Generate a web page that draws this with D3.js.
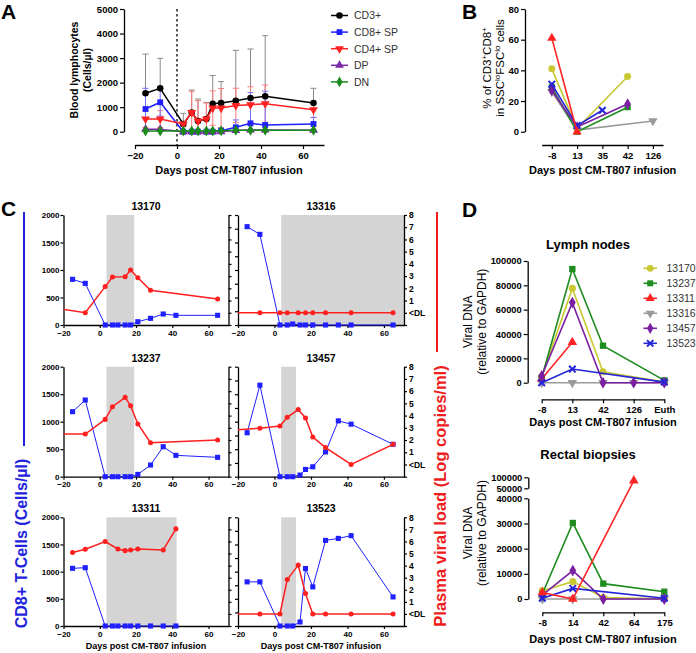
<!DOCTYPE html>
<html><head><meta charset="utf-8">
<script src="https://cdn.jsdelivr.net/npm/d3@7"></script>
<style>body{margin:0;background:#fff}svg{font-family:"Liberation Sans",Arial,sans-serif}</style>
</head><body><svg id="c" width="696" height="653"></svg>
<script>
// ---------- Panel A data ----------
const daysA = [-15,-8,3,7,10,14,17,21,28,35,42,65];
const cd3 = [1565,1769,314,778,436,518,1141,1168,1263,1372,1440,1168];
const cd3Err = [1598,1221,436,922,897,676,1149,872,2051,1998,2473,601];
const cd8 = [925,1198,0,0,0,0,0,40,180,342,273,314];
const cd8Err = [844,560,40,30,30,30,30,60,300,1250,1380,270];
const cd4 = [518,518,314,778,436,518,962,962,1070,1100,1141,896];
const cd4Err = [340,340,100,865,830,650,700,800,700,730,760,320];
const dp = [100,100,0,0,0,0,0,0,50,70,70,60];
const dn = [30,30,30,30,30,30,30,40,60,60,60,60];
const seriesA = ["CD3+","CD8+ SP","CD4+ SP","DP","DN"];
const ticksAx = [-20,0,20,40,60];
const ticksAy = [0,1000,2000,3000,4000,5000];

// ---------- subjects ----------
const subjects = ["13170","13237","13311","13316","13457","13523"];

// ---------- Panel B data ----------
const bCats = ["-8","13","35","42","126"];
const bPct = [
  [41, 2, null, 36, null],
  [29, 0, null, 16, null],
  [61, 0, null, null, null],
  [26, 1, null, null, 7],
  [27, 3, null, 18, null],
  [31, 4, 14, null, null]
];
const ticksBy = [0,20,40,60,80];

// ---------- Panel C data ----------
const cDays = [-15,-8,3,7,10,14,17,21,28,35,42,65];
const cd8_13170 = [830,757,0,0,0,0,0,60,121,200,176,176];
const cd8_13316 = [1788,1648,0,0,18,0,0,0,0,0,0,0];
const cd8_13237 = [1182,1394,0,0,0,0,0,42,212,545,388,352];
const cd8_13457 = [799,1664,0,0,0,30,132,180,450,1015,955,589];
const cd8_13311 = [1061,1073,0,0,0,0,0,0,0,0,0,null];
const cd8_13523 = [812,812,0,0,0,74,1058,720,1575,1612,1662,535];
const vlDays_13170 = [-22,-8,3,7,14,17,21,28,65];
const vl_13170 = [0.32,0,2.14,2.93,2.95,3.5,2.87,1.84,1.13];
const vlDays_13316 = [-22,-8,3,7,13,17,21,28,42,65];
const vl_13316 = [0,0,0,0,0,0,0,0,0,0];
const vlDays_13237 = [-22,-8,3,7,14,17,21,28,65];
const vl_13237 = [2.49,2.49,3.69,4.73,5.49,4.81,3.31,1.78,2.0];
const vlDays_13457 = [-22,-8,3,7,13,17,21,28,42,65];
const vl_13457 = [2.82,2.97,3.14,3.86,4.49,3.81,2.24,1.38,0,1.65];
const vlDays_13311 = [-15,-8,3,10,14,17,21,35,42];
const vl_13311 = [5.08,5.35,5.99,5.38,5.24,5.30,5.38,5.30,7.04];
const vlDays_13523 = [-22,-8,3,7,13,17,21,28,42,65];
const vl_13523 = [0,0,0,2.85,4.04,1.69,0,0,0,0];
const shadeStart = [3.7,3.7,3.7,3.7,3.7,3.7];
const shadeEnd = [19,71,19,11.8,42.4,11.8];
const ticksCx = [-20,0,20,40,60];
const ticksCy = [0,500,1000,1500,2000];
const ticksCy2 = [-1,0,1,2,3,4,5,6,7,8];

// ---------- Panel D data ----------
const lnCats = ["-8","13","42","126","Euth"];
const lnDNA = [
  [5000, 77500, 9000, null, 500],
  [4000, 93400, 30400, null, 1900],
  [3000, 33200, null, null, null],
  [0, 0, 0, 0, 0],
  [5500, 65800, 0, 0, 0],
  [0, 11200, null, null, 500]
];
const rbCats = ["-8","14","42","64","175"];
const rbDNA = [
  [3300, 6900, 600, null, 100],
  [2000, 30200, 6100, null, 2900],
  [2600, 0, null, 85000, null],
  [0, 0, 0, null, 0],
  [1500, 11300, 0, null, 0],
  [300, 4200, null, null, 300]
];
const ticksLNy = [0,20000,40000,60000,80000,100000];
const ticksRBlow = [0,10000,20000,30000,40000];
const ticksRBup = [50000,100000];

// ---------- styles ----------
const FONT = '"Liberation Sans", Arial, sans-serif';
const fmt = d3.format("d");
const colA = ["#000000","#1f1fff","#ff2020","#7a2aa8","#1a8a1a"];
const colAerr = ["#8a8a8a","#7070ff","#ff7878"];
const shapesA = ["circle","square","tridown","triangle","diamond"];
const subjColors = ["#c8c832","#1e8c1e","#ff2424","#9a9a9a","#7a1fa2","#2424d8"];
const subjShapes = ["circle","square","triangle","tridown","diamond","times"];

const svg = d3.select("#c");

function symPath(shape, size){
  const t = {circle:d3.symbolCircle, square:d3.symbolSquare, triangle:d3.symbolTriangle,
    tridown:d3.symbolTriangle, diamond:d3.symbolDiamond, times:d3.symbolTimes}[shape];
  return d3.symbol().type(t).size(size)();
}
function drawSym(g, shape, x, y, size, color){
  const p = g.append("path").attr("d", symPath(shape,size))
    .attr("transform", `translate(${x},${y})` + (shape==="tridown"?" rotate(180)":""));
  if (shape==="times") p.attr("fill","none").attr("stroke",color).attr("stroke-width",2);
  else p.attr("fill",color);
  return p;
}
function styleAxis(g, fs, bold=true){
  g.attr("font-family", FONT);
  g.select(".domain").attr("stroke","#000").attr("stroke-width",1.3);
  g.selectAll(".tick line").attr("stroke","#000").attr("stroke-width",1.2);
  g.selectAll(".tick text").attr("font-size",fs).attr("font-weight",bold?"bold":"normal").attr("fill","#000");
}
function text(x,y,s,opt={}){
  const t = svg.append("text").attr("x",x).attr("y",y).text(s)
    .attr("font-family",FONT).attr("font-size",opt.fs||10)
    .attr("font-weight",opt.bold===false?"normal":"bold")
    .attr("fill",opt.fill||"#000").attr("text-anchor",opt.anchor||"start");
  if (opt.rot) t.attr("transform",`rotate(${opt.rot},${x},${y})`);
  return t;
}

// ================= PANEL A =================
{
  const xA = d3.scaleLinear().domain([-20,70]).range([135,324]);
  const yA = d3.scaleLinear().domain([0,5000]).range([131.7,9]);
  const g = svg.append("g");
  const gy = g.append("g").attr("transform","translate(124,0)")
    .call(d3.axisLeft(yA).tickValues(ticksAy).tickFormat(fmt).tickSize(4).tickSizeOuter(0).tickPadding(2));
  styleAxis(gy, 9.5);
  const gx = g.append("g").attr("transform","translate(0,145)")
    .call(d3.axisBottom(xA).tickValues(ticksAx).tickFormat(fmt).tickSize(4).tickSizeOuter(0).tickPadding(3));
  styleAxis(gx, 9.5);
  g.append("line").attr("x1",xA(0)).attr("x2",xA(0)).attr("y1",9).attr("y2",145)
    .attr("stroke","#000").attr("stroke-width",1.3).attr("stroke-dasharray","2.5,2.5");

  const vals = [cd3,cd8,cd4,dp,dn];
  const errs = [[cd3,cd3Err,0,false],[cd4,cd4Err,2,true],[cd8,cd8Err,1,true]];
  errs.forEach(([v,e,ci,both])=>{
    daysA.forEach((d,i)=>{
      const x = xA(d), hi = yA(v[i]+e[i]), lo = yA(Math.max(0,v[i]-e[i]));
      const y0 = yA(v[i]);
      g.append("line").attr("x1",x).attr("x2",x).attr("y1",hi).attr("y2",both?lo:y0)
        .attr("stroke",colAerr[ci]).attr("stroke-width",1);
      g.append("line").attr("x1",x-3).attr("x2",x+3).attr("y1",hi).attr("y2",hi)
        .attr("stroke",colAerr[ci]).attr("stroke-width",1);
      if (both && v[i]-e[i] > 0)
        g.append("line").attr("x1",x-3).attr("x2",x+3).attr("y1",lo).attr("y2",lo)
          .attr("stroke",colAerr[ci]).attr("stroke-width",1);
    });
  });
  const line = d3.line().x(d=>xA(d[0])).y(d=>yA(d[1]));
  vals.forEach((v,si)=>{
    const pts = daysA.map((d,i)=>[d,v[i]]);
    g.append("path").attr("d",line(pts)).attr("fill","none").attr("stroke",colA[si]).attr("stroke-width",1.5);
    pts.forEach(p=>drawSym(g, shapesA[si], xA(p[0]), yA(p[1]), 34, colA[si]));
  });
  seriesA.forEach((s,i)=>{
    const y = 15.5 + i*16.6;
    g.append("line").attr("x1",331).attr("x2",348).attr("y1",y).attr("y2",y).attr("stroke",colA[i]).attr("stroke-width",1.5);
    drawSym(g, shapesA[i], 339.5, y, 34, colA[i]);
    text(354, y+3.8, s, {fs:10.5, bold:false, fill:"#333"});
  });
  text(229, 174, "Days post CM-T807 infusion", {fs:11, anchor:"middle"});
  text(78, 70, "Blood lymphocytes", {fs:10.5, anchor:"middle", rot:-90});
  text(91, 70, "(Cells/µl)", {fs:10.5, anchor:"middle", rot:-90});
  text(1, 18.5, "A", {fs:21});
}

// ================= PANEL B =================
{
  const xB = d3.scalePoint().domain(bCats).range([541.7,663]).padding(0.4);
  const yB = d3.scaleLinear().domain([0,80]).range([131.7,9]);
  const g = svg.append("g");
  const gy = g.append("g").attr("transform","translate(525,0)")
    .call(d3.axisLeft(yB).tickValues(ticksBy).tickFormat(fmt).tickSize(4).tickSizeOuter(0).tickPadding(2));
  styleAxis(gy, 9.5);
  const gx = g.append("g").attr("transform","translate(0,145)")
    .call(d3.axisBottom(xB).tickSize(4).tickSizeOuter(0).tickPadding(3));
  styleAxis(gx, 9.5);
  const line = d3.line().x(d=>xB(d[0])).y(d=>yB(d[1]));
  const order = [3,1,0,4,5,2];
  order.forEach(si=>{
    const pts = bCats.map((c,i)=>[c,bPct[si][i]]).filter(p=>p[1]!==null);
    g.append("path").attr("d",line(pts)).attr("fill","none").attr("stroke",subjColors[si]).attr("stroke-width",1.6);
    pts.forEach(p=>drawSym(g, subjShapes[si], xB(p[0]), yB(p[1]), subjShapes[si]==="times"?30:38, subjColors[si]));
  });
  text(602.7, 174, "Days post CM-T807 infusion", {fs:11, anchor:"middle"});
  const t1 = svg.append("text").attr("font-family",FONT).attr("font-size",11.5).attr("text-anchor","middle")
    .attr("transform","translate(491,68) rotate(-90)");
  t1.append("tspan").text("% of CD3");
  t1.append("tspan").text("+").attr("font-size",8).attr("dy",-4);
  t1.append("tspan").text("CD8").attr("dy",4);
  t1.append("tspan").text("+").attr("font-size",8).attr("dy",-4);
  const t2 = svg.append("text").attr("font-family",FONT).attr("font-size",11.5).attr("text-anchor","middle")
    .attr("transform","translate(504,68) rotate(-90)");
  t2.append("tspan").text("in SSC");
  t2.append("tspan").text("lo").attr("font-size",8).attr("dy",-4);
  t2.append("tspan").text("FSC").attr("dy",4);
  t2.append("tspan").text("lo").attr("font-size",8).attr("dy",-4);
  t2.append("tspan").text(" cells").attr("dy",4);
  text(462, 18.5, "B", {fs:21});
}

// ================= PANEL C =================
{
  const rows = [[215,325],[366.7,476.7],[517.3,626]];
  const cols = [[63.5,228.5],[238,404]];
  const panels = [
    ["13170",0,0,cd8_13170,vlDays_13170,vl_13170],
    ["13316",0,1,cd8_13316,vlDays_13316,vl_13316],
    ["13237",1,0,cd8_13237,vlDays_13237,vl_13237],
    ["13457",1,1,cd8_13457,vlDays_13457,vl_13457],
    ["13311",2,0,cd8_13311,vlDays_13311,vl_13311],
    ["13523",2,1,cd8_13523,vlDays_13523,vl_13523]
  ];
  panels.forEach((p,pi)=>{
    const [title,r,c,cd,vd,vv] = p;
    const [top,bot] = rows[r], [x0,x1] = cols[c];
    const x = d3.scaleLinear().domain([-20,71]).range([x0,x1]);
    const y = d3.scaleLinear().domain([0,2000]).range([bot,top]);
    const y2 = d3.scaleLinear().domain([-1,8]).range([bot,top]);
    const g = svg.append("g");
    const cid = "clip"+pi;
    g.append("clipPath").attr("id",cid).append("rect").attr("x",x0).attr("y",top-5).attr("width",x1-x0).attr("height",bot-top+10);
    g.append("rect").attr("x",x(shadeStart[pi])).attr("y",top)
      .attr("width",x(Math.min(71,shadeEnd[pi]))-x(shadeStart[pi])).attr("height",bot-top).attr("fill","#d4d4d4");
    const gl = g.append("g").attr("transform",`translate(${x0},0)`)
      .call(c===0 ? d3.axisLeft(y).tickValues(ticksCy).tickFormat(fmt).tickSize(3).tickSizeOuter(0).tickPadding(1)
                  : d3.axisLeft(y).tickValues([0,250,500,750,1000,1250,1500,1750,2000]).tickSize(3).tickSizeOuter(0).tickFormat(""));
    styleAxis(gl, 8);
    const gr = g.append("g").attr("transform",`translate(${x1},0)`)
      .call(d3.axisRight(y2).tickValues(ticksCy2).tickSize(3).tickSizeOuter(0).tickPadding(2)
        .tickFormat(c===1 ? (d=>d===-1?"":(d===0?"<DL":String(d))) : ""));
    styleAxis(gr, 8.5);
    const gx = g.append("g").attr("transform",`translate(0,${bot})`)
      .call(d3.axisBottom(x).tickValues(ticksCx).tickFormat(fmt).tickSize(3).tickSizeOuter(0).tickPadding(2));
    styleAxis(gx, 8);
    const pts = cDays.map((d,i)=>[d,cd[i]]).filter(q=>q[1]!==null);
    const lb = d3.line().x(d=>x(d[0])).y(d=>y(d[1]));
    g.append("path").attr("d",lb(pts)).attr("fill","none").attr("stroke","#1f1fff").attr("stroke-width",1).attr("clip-path",`url(#${cid})`);
    pts.forEach(q=>drawSym(g,"square",x(q[0]),y(q[1]),26,"#1f1fff"));
    const vp = vd.map((d,i)=>[d,vv[i]]);
    const lr = d3.line().x(d=>x(d[0])).y(d=>y2(d[1]));
    g.append("path").attr("d",lr(vp)).attr("fill","none").attr("stroke","#ff1f1f").attr("stroke-width",1.5).attr("clip-path",`url(#${cid})`);
    vp.filter(q=>q[0]>=-20).forEach(q=>drawSym(g,"circle",x(q[0]),y2(q[1]),20,"#ff1f1f"));
    text((x0+x1)/2, top-5, title, {fs:10.5, anchor:"middle"});
    if (r===2) text((x0+x1)/2, bot+23, "Days post CM-T807 infusion", {fs:9, anchor:"middle"});
  });
  svg.append("line").attr("x1",24).attr("x2",24).attr("y1",212).attr("y2",446).attr("stroke","#2222dd").attr("stroke-width",2);
  text(26.5, 543.5, "CD8+ T-Cells (Cells/µl)", {fs:16, anchor:"middle", fill:"#2222dd", rot:-90});
  svg.append("line").attr("x1",437).attr("x2",437).attr("y1",212).attr("y2",352).attr("stroke","#ee1c1c").attr("stroke-width",2);
  text(445.5, 496, "Plasma viral load (Log copies/ml)", {fs:16.5, anchor:"middle", fill:"#ee1c1c", rot:-90});
  text(1, 215.5, "C", {fs:21});
}

// ================= PANEL D =================
{
  const g = svg.append("g");
  const x = d3.scalePoint().domain(lnCats).range([541.7,664.3]);
  const y = d3.scaleLinear().domain([0,100000]).range([382.7,261]);
  const gy = g.append("g").attr("transform","translate(527.7,0)")
    .call(d3.axisLeft(y).tickValues(ticksLNy).tickFormat(fmt).tickSize(4).tickSizeOuter(0).tickPadding(2));
  styleAxis(gy, 9.3);
  const gx = g.append("g").attr("transform","translate(0,399.3)")
    .call(d3.axisBottom(x).tickSize(4).tickSizeOuter(0).tickPadding(3));
  styleAxis(gx, 9.5);
  const line = d3.line().x(d=>x(d[0])).y(d=>y(d[1]));
  [3,0,1,2,4,5].forEach(si=>{
    const pts = lnCats.map((c,i)=>[c,lnDNA[si][i]]).filter(p=>p[1]!==null);
    g.append("path").attr("d",line(pts)).attr("fill","none").attr("stroke",subjColors[si]).attr("stroke-width",1.6);
    pts.forEach(p=>drawSym(g, subjShapes[si], x(p[0]), y(p[1]), subjShapes[si]==="times"?30:40, subjColors[si]));
  });
  text(588, 249, "Lymph nodes", {fs:13, anchor:"middle"});
  text(603, 425.5, "Days post CM-T807 infusion", {fs:11, anchor:"middle"});
  text(472, 321.7, "Viral DNA", {fs:12, bold:false, anchor:"middle", rot:-90});
  text(486, 321.7, "(relative to GAPDH)", {fs:12, bold:false, anchor:"middle", rot:-90});
  subjects.forEach((s,i)=>{
    const yy = 268.3 + i*15;
    g.append("line").attr("x1",643.5).attr("x2",657).attr("y1",yy).attr("y2",yy).attr("stroke",subjColors[i]).attr("stroke-width",1.6);
    drawSym(g, subjShapes[i], 650.2, yy, subjShapes[i]==="times"?28:36, subjColors[i]);
    text(666.5, yy+3.8, s, {fs:10.5, bold:false, fill:"#333"});
  });
  text(462, 217, "D", {fs:21});
}
{
  const g = svg.append("g");
  const x = d3.scalePoint().domain(rbCats).range([542.3,664.3]);
  const y = d3.scaleLinear().domain([0,40000,50000,100000]).range([599,498.3,488.3,477.3]);
  const yLow = d3.scaleLinear().domain([0,40000]).range([599,498.3]);
  const yUp = d3.scaleLinear().domain([50000,100000]).range([488.3,477.3]);
  const gy = g.append("g").attr("transform","translate(528.3,0)")
    .call(d3.axisLeft(yLow).tickValues(ticksRBlow).tickFormat(fmt).tickSize(4).tickSizeOuter(0).tickPadding(2));
  styleAxis(gy, 9.3);
  const gy2 = g.append("g").attr("transform","translate(528.3,0)")
    .call(d3.axisLeft(yUp).tickValues(ticksRBup).tickFormat(fmt).tickSize(4).tickSizeOuter(0).tickPadding(2));
  styleAxis(gy2, 9.3);
  const gx = g.append("g").attr("transform","translate(0,612.3)")
    .call(d3.axisBottom(x).tickSize(4).tickSizeOuter(0).tickPadding(3));
  styleAxis(gx, 9.5);
  const line = d3.line().x(d=>x(d[0])).y(d=>y(d[1]));
  [3,0,1,4,5,2].forEach(si=>{
    const pts = rbCats.map((c,i)=>[c,rbDNA[si][i]]).filter(p=>p[1]!==null);
    g.append("path").attr("d",line(pts)).attr("fill","none").attr("stroke",subjColors[si]).attr("stroke-width",1.6);
    pts.forEach(p=>drawSym(g, subjShapes[si], x(p[0]), y(p[1]), subjShapes[si]==="times"?30:40, subjColors[si]));
  });
  text(588, 459, "Rectal biopsies", {fs:13, anchor:"middle"});
  text(603, 643, "Days post CM-T807 infusion", {fs:11, anchor:"middle"});
  text(472, 533, "Viral DNA", {fs:12, bold:false, anchor:"middle", rot:-90});
  text(486, 533, "(relative to GAPDH)", {fs:12, bold:false, anchor:"middle", rot:-90});
}
</script></body></html>
